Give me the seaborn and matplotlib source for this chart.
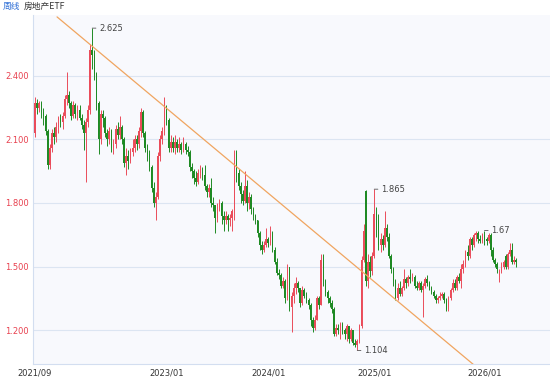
import matplotlib
matplotlib.use("Agg")
import matplotlib.pyplot as plt
import seaborn as sns
import numpy as np
import pandas as pd

# ---------------- data (weekly candles) ----------------
opens = [
 2.13,2.27,2.25,2.27,2.23,2.21,2.14,1.98,2.06,2.13,2.11,2.16,2.20,2.18,2.21,2.29,2.31,2.27,2.21,2.26,
 2.22,2.24,2.20,2.17,2.13,2.18,2.24,2.52,2.50,2.41,2.27,2.10,2.22,2.20,2.13,2.10,2.14,2.06,2.08,2.15,
 2.12,2.16,2.10,1.99,2.02,2.00,2.04,2.06,2.10,2.08,2.14,2.23,2.13,2.06,2.03,1.97,1.87,1.80,1.83,2.02,
 2.10,2.14,2.24,2.19,2.06,2.09,2.06,2.09,2.06,2.08,2.05,2.08,2.05,2.04,1.97,1.95,1.92,1.90,1.94,1.96,
 1.93,1.88,1.85,1.87,1.80,1.79,1.73,1.78,1.80,1.74,1.72,1.74,1.72,1.73,1.76,1.97,1.94,1.88,1.84,1.81,
 1.88,1.80,1.83,1.77,1.74,1.72,1.66,1.60,1.58,1.60,1.63,1.61,1.66,1.58,1.52,1.47,1.46,1.41,1.43,1.35,
 1.50,1.31,1.36,1.40,1.42,1.40,1.33,1.39,1.36,1.34,1.32,1.25,1.21,1.25,1.35,1.32,1.53,1.43,1.38,1.35,
 1.33,1.30,1.18,1.21,1.20,1.23,1.20,1.18,1.22,1.16,1.20,1.14,1.13,1.15,1.22,1.53,1.855,1.43,1.52,1.48,
 1.55,1.75,1.72,1.60,1.63,1.60,1.68,1.64,1.55,1.49,1.43,1.35,1.40,1.37,1.40,1.44,1.42,1.45,1.44,1.45,
 1.41,1.40,1.42,1.39,1.41,1.44,1.42,1.40,1.38,1.36,1.34,1.35,1.36,1.37,1.34,1.30,1.35,1.39,1.42,1.40,
 1.45,1.43,1.49,1.51,1.57,1.55,1.63,1.60,1.65,1.66,1.63,1.62,1.65,1.63,1.62,1.65,1.58,1.53,1.51,1.46,
 1.48,1.50,1.55,1.50,1.56,1.58,1.52,1.53]
highs = [
 2.30,2.29,2.28,2.28,2.25,2.22,2.15,2.08,2.15,2.16,2.18,2.21,2.22,2.23,2.31,2.42,2.33,2.28,2.28,2.27,
 2.26,2.26,2.22,2.19,2.20,2.26,2.55,2.625,2.52,2.42,2.28,2.24,2.24,2.21,2.15,2.16,2.15,2.10,2.17,2.18,
 2.21,2.17,2.11,2.06,2.05,2.06,2.10,2.12,2.12,2.16,2.25,2.24,2.14,2.08,2.05,1.98,1.90,1.85,2.04,2.12,
 2.16,2.30,2.26,2.20,2.12,2.11,2.12,2.10,2.11,2.09,2.11,2.09,2.07,2.05,1.99,1.96,1.95,1.96,1.98,1.97,
 1.98,1.89,1.89,1.92,1.83,1.79,1.80,1.82,1.81,1.76,1.76,1.75,1.75,1.77,2.05,2.05,1.96,1.90,1.86,1.95,
 1.91,1.85,1.84,1.78,1.75,1.72,1.67,1.62,1.62,1.68,1.64,1.69,1.67,1.59,1.54,1.49,1.47,1.45,1.44,1.51,
 1.50,1.38,1.42,1.45,1.43,1.40,1.41,1.40,1.38,1.35,1.33,1.26,1.27,1.36,1.36,1.56,1.56,1.44,1.39,1.36,
 1.34,1.31,1.23,1.23,1.24,1.24,1.21,1.23,1.22,1.21,1.20,1.16,1.16,1.23,1.55,1.70,1.86,1.56,1.55,1.57,
 1.865,1.78,1.75,1.66,1.65,1.76,1.70,1.66,1.56,1.50,1.44,1.42,1.43,1.41,1.49,1.45,1.46,1.49,1.47,1.46,
 1.43,1.43,1.43,1.42,1.45,1.46,1.43,1.41,1.39,1.37,1.36,1.38,1.38,1.38,1.35,1.36,1.40,1.44,1.44,1.46,
 1.47,1.51,1.53,1.58,1.60,1.64,1.64,1.66,1.67,1.67,1.65,1.66,1.67,1.64,1.66,1.66,1.59,1.54,1.52,1.49,
 1.52,1.53,1.56,1.57,1.61,1.61,1.55,1.54]
lows = [
 2.11,2.22,2.23,2.20,2.17,2.12,1.96,1.96,2.04,2.08,2.09,2.13,2.16,2.15,2.20,2.26,2.25,2.19,2.20,2.20,
 2.19,2.19,2.15,2.05,1.90,2.16,2.22,2.43,2.38,2.24,2.03,2.08,2.16,2.11,2.07,2.08,2.04,2.03,2.06,2.10,
 2.10,2.08,1.97,1.93,1.96,1.99,2.02,2.04,2.05,2.06,2.11,2.11,2.04,2.00,1.95,1.85,1.78,1.72,1.82,2.00,
 2.08,2.12,2.17,2.04,2.04,2.04,2.03,2.04,2.04,2.03,2.04,2.03,2.02,1.95,1.92,1.89,1.88,1.89,1.92,1.91,
 1.86,1.83,1.83,1.78,1.76,1.66,1.71,1.76,1.70,1.67,1.70,1.67,1.69,1.67,1.72,1.90,1.86,1.80,1.79,1.80,
 1.76,1.77,1.75,1.72,1.70,1.64,1.58,1.56,1.57,1.59,1.59,1.60,1.57,1.51,1.46,1.44,1.40,1.40,1.33,1.34,
 1.29,1.19,1.33,1.37,1.38,1.31,1.32,1.35,1.33,1.30,1.22,1.19,1.20,1.25,1.30,1.32,1.41,1.36,1.33,1.31,
 1.28,1.17,1.17,1.18,1.16,1.18,1.16,1.15,1.14,1.15,1.13,1.12,1.104,1.14,1.21,1.52,1.41,1.40,1.45,1.46,
 1.54,1.64,1.58,1.57,1.58,1.59,1.62,1.54,1.47,1.41,1.34,1.34,1.36,1.36,1.39,1.40,1.41,1.42,1.43,1.40,
 1.39,1.39,1.38,1.26,1.40,1.41,1.39,1.37,1.35,1.33,1.33,1.34,1.35,1.33,1.29,1.29,1.34,1.38,1.39,1.39,
 1.42,1.40,1.47,1.50,1.53,1.54,1.58,1.59,1.62,1.61,1.61,1.61,1.60,1.60,1.61,1.55,1.52,1.50,1.47,1.425,
 1.47,1.49,1.49,1.49,1.55,1.51,1.51,1.50]
closes = [
 2.27,2.25,2.27,2.23,2.21,2.14,1.98,2.06,2.13,2.11,2.16,2.20,2.18,2.21,2.29,2.31,2.27,2.21,2.26,2.22,
 2.24,2.20,2.17,2.13,2.18,2.24,2.52,2.50,2.41,2.27,2.10,2.22,2.20,2.13,2.10,2.14,2.06,2.08,2.15,2.12,
 2.16,2.10,1.99,2.02,2.00,2.04,2.06,2.10,2.08,2.14,2.23,2.13,2.06,2.03,1.97,1.87,1.80,1.83,2.02,2.10,
 2.14,2.24,2.19,2.06,2.09,2.06,2.09,2.06,2.08,2.05,2.08,2.05,2.04,1.97,1.95,1.92,1.90,1.94,1.96,1.93,
 1.88,1.85,1.87,1.80,1.79,1.73,1.78,1.80,1.74,1.72,1.74,1.72,1.73,1.76,1.97,1.94,1.88,1.84,1.81,1.88,
 1.80,1.83,1.77,1.74,1.72,1.66,1.60,1.58,1.60,1.63,1.61,1.66,1.58,1.52,1.47,1.46,1.41,1.43,1.35,1.50,
 1.31,1.36,1.40,1.42,1.40,1.33,1.39,1.36,1.34,1.32,1.25,1.21,1.25,1.35,1.32,1.53,1.43,1.38,1.35,1.33,
 1.30,1.18,1.21,1.20,1.23,1.20,1.18,1.22,1.16,1.20,1.14,1.13,1.15,1.22,1.53,1.67,1.43,1.52,1.48,1.55,
 1.75,1.72,1.60,1.63,1.60,1.68,1.64,1.55,1.49,1.43,1.35,1.40,1.37,1.40,1.44,1.42,1.45,1.44,1.45,1.41,
 1.40,1.42,1.39,1.41,1.44,1.42,1.40,1.38,1.36,1.34,1.35,1.36,1.37,1.34,1.30,1.35,1.39,1.42,1.40,1.45,
 1.43,1.49,1.51,1.57,1.55,1.63,1.60,1.65,1.66,1.63,1.62,1.65,1.63,1.62,1.65,1.58,1.53,1.51,1.49,1.48,
 1.50,1.52,1.50,1.56,1.58,1.52,1.53,1.52]

# tick labels and their candle positions
tick_labels = ["2021/09", "2023/01", "2024/01", "2025/01", "2026/01"]
tick_index = [0, 62, 110, 160, 212]
y_ticks = [1.2, 1.5, 1.8, 2.1, 2.4]

# trend line (two anchor points: candle index, price)
trend_x = [10.4, 207.1]
trend_y = [2.678, 1.035]

# marked extremes: candle index, value
marks_index = [27, 160, 152, 212]
marks_value = [2.625, 1.865, 1.104, 1.67]
marks_text = ["2.625", "1.865", "1.104", "1.67"]

# ---------------- drawing ----------------
sns.set_style("white")
plt.rcParams["font.family"] = ["Noto Sans CJK SC", "DejaVu Sans"]

df = pd.DataFrame({"open": opens, "high": highs, "low": lows, "close": closes})
df["i"] = np.arange(len(df))
RED, GREEN = "#ea4c5a", "#1f8a24"
df["color"] = np.where(df["close"] >= df["open"], RED, GREEN)

fig = plt.figure(figsize=(5.5, 3.78), dpi=100, facecolor="white")
ax = fig.add_axes([33 / 550, 14 / 378, 517 / 550, 349 / 378])
ax.set_facecolor("#f8f9fd")

ax.vlines(df["i"], df["low"], df["high"], colors=df["color"], lw=0.7, zorder=2)
body = (df["close"] - df["open"]).abs().clip(lower=0.004)
ax.bar(df["i"], body, bottom=df[["open", "close"]].min(axis=1), width=0.75,
       color=df["color"], linewidth=0, zorder=3)

sns.lineplot(x=trend_x, y=trend_y, ax=ax, color="#f0a560", lw=0.9, zorder=4)

for i, v, t in zip(marks_index, marks_value, marks_text):
    ax.annotate(t, xy=(i, v), xytext=(5, 0), textcoords="offset points",
                ha="left", va="center", fontsize=6, color="#444444",
                family="DejaVu Sans",
                arrowprops=dict(arrowstyle="-", lw=0.6, color="#555555",
                                shrinkA=0, shrinkB=0), zorder=5)

ax.set_xlim(-0.94, 242.9)
ax.set_ylim(1.040, 2.687)
ax.set_xticks(tick_index)
ax.set_xticklabels(tick_labels, family="DejaVu Sans")
ax.set_yticks(y_ticks)
ax.set_yticklabels([f"{v:.3f}" for v in y_ticks], family="DejaVu Sans")

ax.tick_params(axis="x", direction="out", length=3, width=0.8, color="#777777",
               labelsize=6, labelcolor="#333333", pad=0.5)
ax.tick_params(axis="y", length=0, labelsize=6, labelcolor="#e8414f", pad=3)

ax.yaxis.grid(True, color="#dce5f2", lw=0.8)
ax.xaxis.grid(False)
ax.set_axisbelow(True)
for s in ["top", "right"]:
    ax.spines[s].set_visible(False)
for s in ["left", "bottom"]:
    ax.spines[s].set_color("#d3def0")
    ax.spines[s].set_linewidth(0.8)
ax.set_xlabel("")
ax.set_ylabel("")

fig.text(3 / 550, 1 - 6 / 378, "周线", color="#2f6fd6", fontsize=6.3, va="center", ha="left")
fig.text(24 / 550, 1 - 6 / 378, "房地产ETF", color="#333333", fontsize=6.3, va="center", ha="left")

fig.savefig("out.png", dpi=100, facecolor="white")
